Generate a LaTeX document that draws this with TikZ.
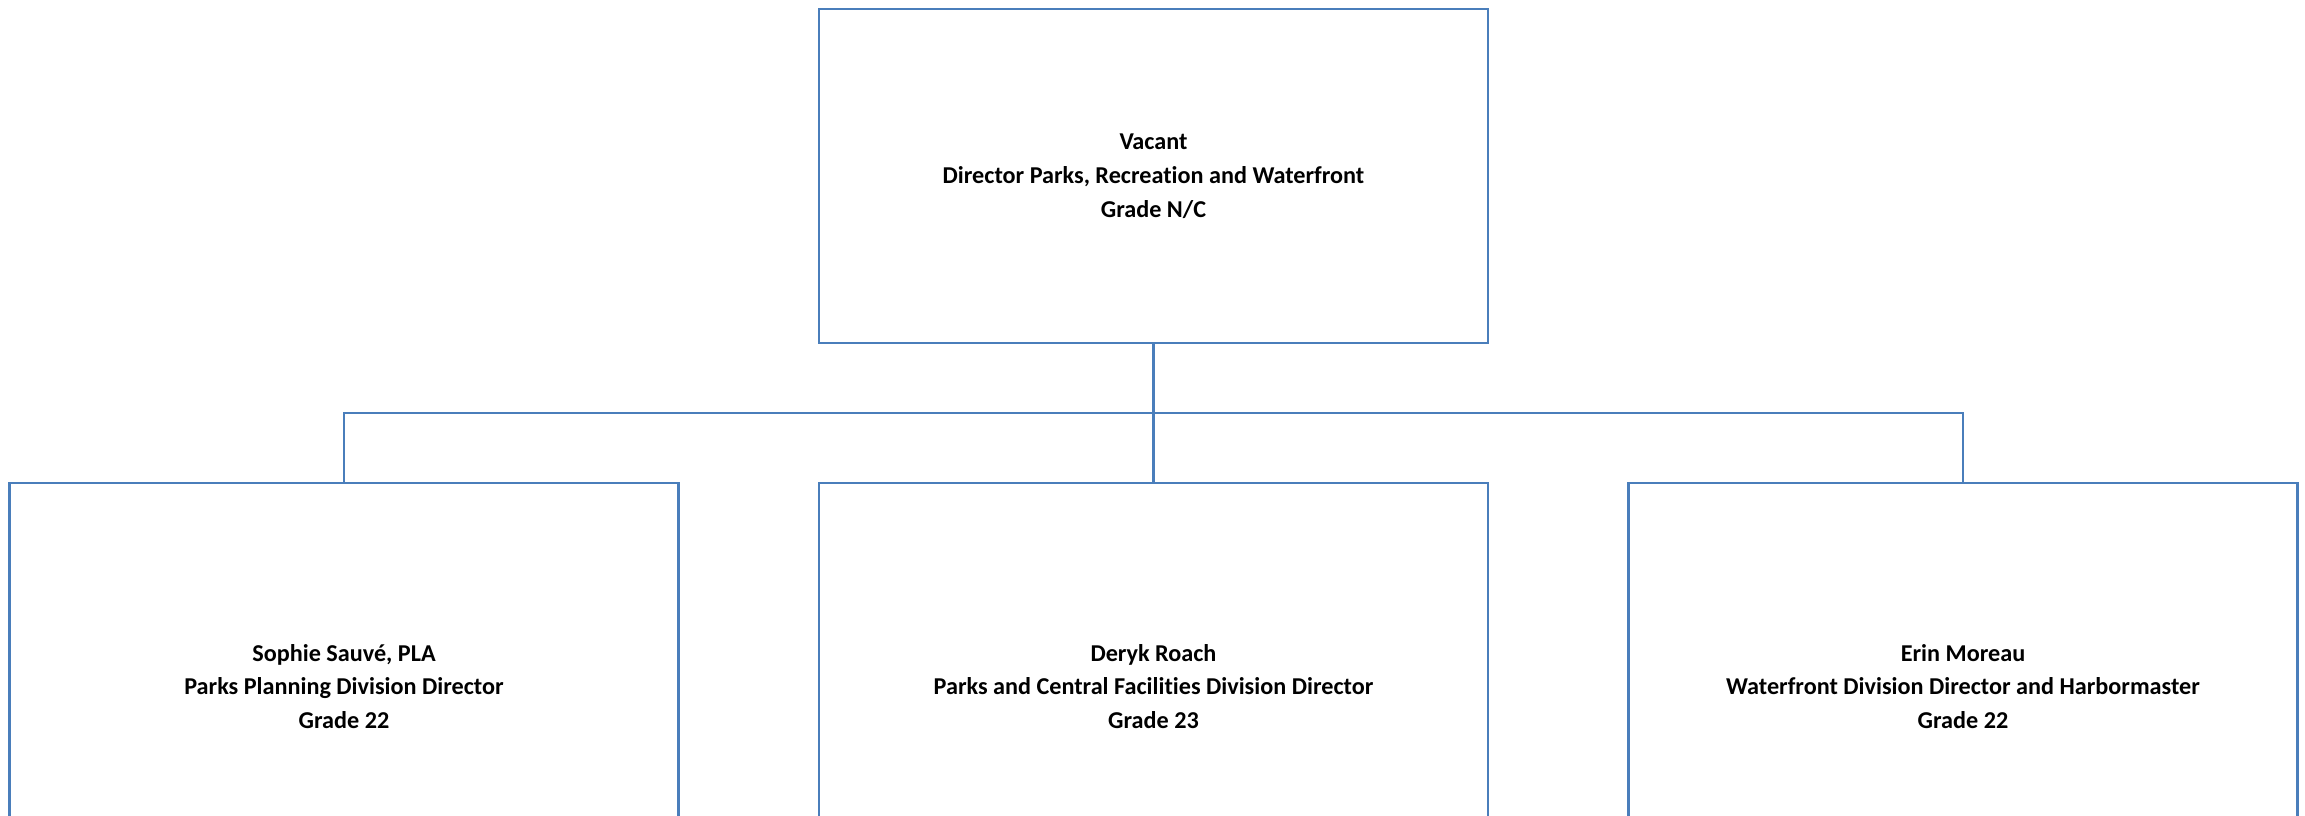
\documentclass[tikz,border=0pt]{standalone}
\usepackage{fontspec}
\setmainfont{Carlito}[Ligatures=NoCommon]
\definecolor{boxblue}{HTML}{4A7EBB}
\begin{document}
\begin{tikzpicture}[x=1pt,y=-1pt,
  orgbox/.style={draw=boxblue,line width=2.4pt,minimum width=669pt,inner sep=0pt,
    align=center,font=\fontsize{24.2}{33.8}\selectfont\bfseries,text=black},
  topbox/.style={orgbox,minimum height=334pt},
  lowbox/.style={orgbox,minimum height=407pt},
  link/.style={draw=boxblue,line width=2.2pt}]
\useasboundingbox (0,0) rectangle (2305,815);
\clip (0,0) rectangle (2305,815);
\node[topbox] (top) at (1153.5,176) {Vacant\\Director Parks, Recreation and Waterfront\\Grade N/C};
\node[lowbox] (left) at (344,686.5) {Sophie Sauvé, PLA\\Parks Planning Division Director\\Grade 22};
\node[lowbox] (mid) at (1153.5,686.5) {Deryk Roach\\Parks and Central Facilities Division Director\\Grade 23};
\node[lowbox] (right) at (1963,686.5) {Erin Moreau\\Waterfront Division Director and Harbormaster\\Grade 22};
\coordinate (bus) at (1153.5,413);
\draw[link] (top.south) -- (mid.north);
\draw[link] (left.north) -- (left.north |- bus) -- (right.north |- bus) -- (right.north);
\end{tikzpicture}
\end{document}
